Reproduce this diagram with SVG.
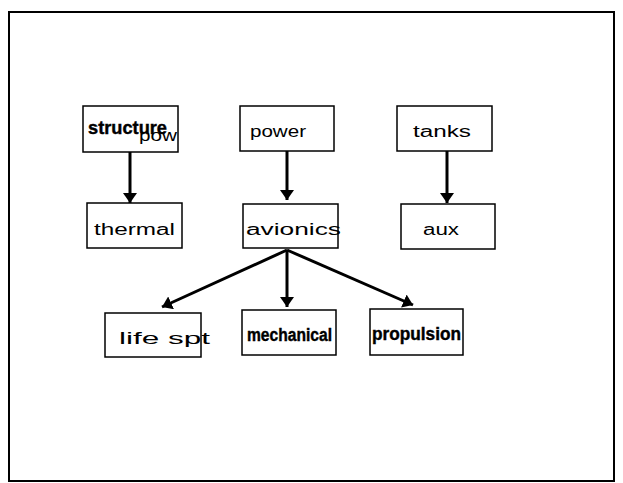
<svg xmlns="http://www.w3.org/2000/svg" width="623" height="483" viewBox="0 0 623 483">
<style>
.box{fill:#fff;stroke:#000;stroke-width:1.5}
.t{font-family:"Liberation Sans",Arial,sans-serif;font-size:16px;fill:#000}
.b{font-family:"Liberation Sans",Arial,sans-serif;font-size:18px;font-weight:bold;fill:#000;stroke:#000;stroke-width:0.4}
.c{stroke:#000;stroke-width:3;fill:none}
</style>
<defs>
<marker id="ah" viewBox="0 0 10 14" refX="10" refY="7" markerWidth="10" markerHeight="14" markerUnits="userSpaceOnUse" orient="auto">
<path d="M0,0 L10,7 L0,14 z" fill="#000"/>
</marker>
</defs>
<rect x="9" y="12" width="605" height="469" fill="#fff" stroke="#000" stroke-width="2"/>
<g id="connectors">
<line class="c" x1="130" y1="152" x2="130" y2="203" marker-end="url(#ah)"/>
<line class="c" x1="287" y1="151" x2="287" y2="200" marker-end="url(#ah)"/>
<line class="c" x1="447" y1="151" x2="447" y2="203" marker-end="url(#ah)"/>
<line class="c" x1="287" y1="250" x2="162" y2="307" marker-end="url(#ah)"/>
<line class="c" x1="287" y1="250" x2="287" y2="307" marker-end="url(#ah)"/>
<line class="c" x1="287" y1="250" x2="413" y2="305" marker-end="url(#ah)"/>
</g>
<g id="structure">
<rect class="box" x="83" y="106" width="95" height="46"/>
<text class="b" x="88" y="134" textLength="79" lengthAdjust="spacingAndGlyphs">structure</text>
<text class="t" x="139" y="141" font-size="13" textLength="38" lengthAdjust="spacingAndGlyphs">pow</text>
</g>
<g id="power">
<rect class="box" x="240" y="106" width="94" height="45"/>
<text class="t" x="250" y="137" textLength="56" lengthAdjust="spacingAndGlyphs">power</text>
</g>
<g id="tanks">
<rect class="box" x="397" y="106" width="95" height="45"/>
<text class="t" x="413" y="137" textLength="58" lengthAdjust="spacingAndGlyphs">tanks</text>
</g>
<g id="thermal">
<rect class="box" x="87" y="203" width="95" height="45"/>
<text class="t" x="94" y="235" textLength="81" lengthAdjust="spacingAndGlyphs">thermal</text>
</g>
<g id="avionics">
<rect class="box" x="243" y="204" width="95" height="44"/>
<text class="t" x="246" y="235" textLength="95" lengthAdjust="spacingAndGlyphs">avionics</text>
</g>
<g id="aux">
<rect class="box" x="401" y="204" width="94" height="45"/>
<text class="t" x="423" y="235" textLength="36" lengthAdjust="spacingAndGlyphs">aux</text>
</g>
<g id="life_spt">
<rect class="box" x="105" y="313" width="96" height="44"/>
<text class="t" x="119" y="344" textLength="91" lengthAdjust="spacingAndGlyphs">life spt</text>
</g>
<g id="mechanical">
<rect class="box" x="242" y="310" width="94" height="45"/>
<text class="b" x="247" y="341" textLength="85" lengthAdjust="spacingAndGlyphs">mechanical</text>
</g>
<g id="propulsion">
<rect class="box" x="370" y="309" width="93" height="46"/>
<text class="b" x="372" y="340" textLength="89" lengthAdjust="spacingAndGlyphs">propulsion</text>
</g>
</svg>
